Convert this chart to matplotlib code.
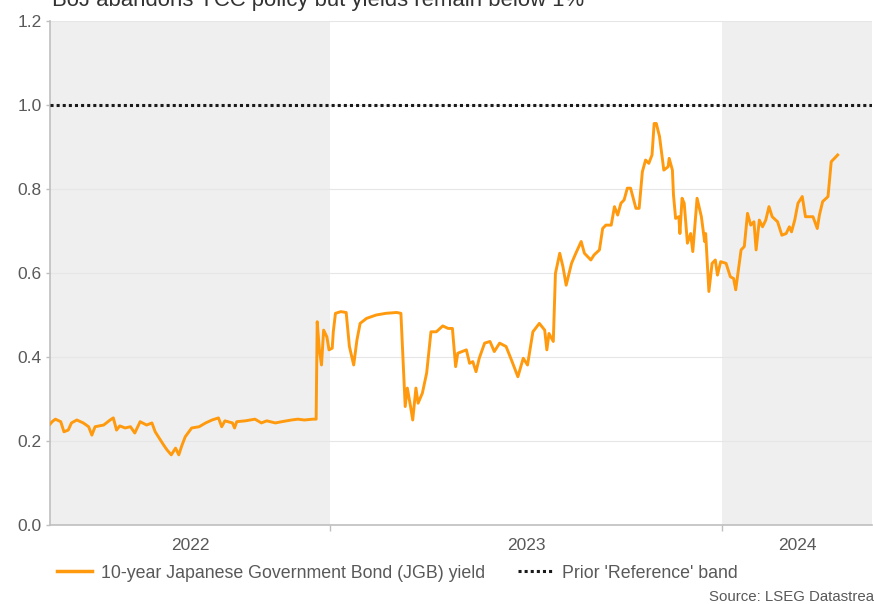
import matplotlib
matplotlib.use('Agg')
import matplotlib.pyplot as plt
from matplotlib.lines import Line2D
import pandas as pd

# 10-year JGB yield, sampled off the daily series (date, %)
dates_2022 = ['2022-04-15', '2022-04-17', '2022-04-20', '2022-04-25', '2022-04-28', '2022-05-02',
              '2022-05-05', '2022-05-10', '2022-05-16', '2022-05-21', '2022-05-24', '2022-05-27',
              '2022-06-04', '2022-06-10', '2022-06-13', '2022-06-16', '2022-06-19', '2022-06-24',
              '2022-06-29', '2022-07-03', '2022-07-08', '2022-07-14', '2022-07-19', '2022-07-22',
              '2022-07-27', '2022-07-30', '2022-08-02', '2022-08-06', '2022-08-10', '2022-08-13',
              '2022-08-16', '2022-08-19', '2022-08-25', '2022-09-01', '2022-09-07', '2022-09-13',
              '2022-09-19', '2022-09-22', '2022-09-25', '2022-10-02', '2022-10-04', '2022-10-06',
              '2022-10-14', '2022-10-23', '2022-10-29', '2022-11-03', '2022-11-11', '2022-11-17',
              '2022-11-26', '2022-12-02', '2022-12-08', '2022-12-16', '2022-12-19', '2022-12-20',
              '2022-12-22', '2022-12-24', '2022-12-26', '2022-12-29', '2022-12-31']
yields_2022 = [0.240, 0.246, 0.252, 0.246, 0.222, 0.226,
               0.243, 0.250, 0.243, 0.234, 0.214, 0.234,
               0.238, 0.250, 0.255, 0.226, 0.236, 0.231,
               0.234, 0.219, 0.246, 0.238, 0.243, 0.222,
               0.202, 0.190, 0.179, 0.167, 0.183, 0.167,
               0.190, 0.210, 0.231, 0.234, 0.243, 0.250,
               0.255, 0.234, 0.248, 0.243, 0.231, 0.246,
               0.248, 0.252, 0.243, 0.248, 0.243, 0.246,
               0.250, 0.252, 0.250, 0.252, 0.252, 0.484,
               0.417, 0.381, 0.464, 0.448, 0.417]

dates_2023 = ['2023-01-03', '2023-01-04', '2023-01-06', '2023-01-11', '2023-01-16', '2023-01-19',
              '2023-01-23', '2023-01-26', '2023-01-29', '2023-02-04', '2023-02-13', '2023-02-22',
              '2023-03-04', '2023-03-08', '2023-03-10', '2023-03-12', '2023-03-14', '2023-03-17',
              '2023-03-19', '2023-03-22', '2023-03-24', '2023-03-28', '2023-04-01', '2023-04-05',
              '2023-04-10', '2023-04-16', '2023-04-21', '2023-04-25', '2023-04-28', '2023-04-30',
              '2023-05-08', '2023-05-11', '2023-05-14', '2023-05-17', '2023-05-20', '2023-05-25',
              '2023-05-30', '2023-06-03', '2023-06-08', '2023-06-14', '2023-06-19', '2023-06-25',
              '2023-06-30', '2023-07-04', '2023-07-09', '2023-07-15', '2023-07-20', '2023-07-22',
              '2023-07-24', '2023-07-28', '2023-07-30', '2023-08-03', '2023-08-06', '2023-08-09',
              '2023-08-14', '2023-08-18', '2023-08-23', '2023-08-26', '2023-09-01', '2023-09-04',
              '2023-09-09', '2023-09-12', '2023-09-15', '2023-09-20', '2023-09-23', '2023-09-26',
              '2023-09-29', '2023-10-02', '2023-10-05', '2023-10-08', '2023-10-13', '2023-10-16',
              '2023-10-19', '2023-10-22', '2023-10-25', '2023-10-28', '2023-10-30', '2023-11-01',
              '2023-11-04', '2023-11-08', '2023-11-12', '2023-11-13', '2023-11-16', '2023-11-17',
              '2023-11-19', '2023-11-22', '2023-11-23', '2023-11-25', '2023-11-27', '2023-11-30',
              '2023-12-03', '2023-12-05', '2023-12-09', '2023-12-13', '2023-12-16', '2023-12-17',
              '2023-12-20', '2023-12-23', '2023-12-26', '2023-12-28', '2023-12-31']
yields_2023 = [0.421, 0.460, 0.504, 0.508, 0.506, 0.425,
               0.381, 0.440, 0.480, 0.492, 0.500, 0.504,
               0.506, 0.504, 0.393, 0.282, 0.326, 0.282,
               0.250, 0.326, 0.290, 0.314, 0.362, 0.460,
               0.460, 0.474, 0.468, 0.468, 0.377, 0.409,
               0.417, 0.385, 0.389, 0.365, 0.397, 0.433,
               0.437, 0.413, 0.433, 0.425, 0.393, 0.353,
               0.397, 0.381, 0.460, 0.480, 0.464, 0.417,
               0.456, 0.437, 0.599, 0.647, 0.615, 0.571,
               0.623, 0.647, 0.675, 0.647, 0.631, 0.643,
               0.655, 0.706, 0.714, 0.714, 0.758, 0.738,
               0.766, 0.774, 0.802, 0.802, 0.754, 0.754,
               0.841, 0.869, 0.861, 0.881, 0.956, 0.956,
               0.925, 0.845, 0.853, 0.873, 0.845, 0.786,
               0.730, 0.734, 0.694, 0.778, 0.766, 0.671,
               0.694, 0.651, 0.778, 0.734, 0.675, 0.694,
               0.556, 0.623, 0.631, 0.595, 0.627]

dates_2024 = ['2024-01-05', '2024-01-09', '2024-01-12', '2024-01-14', '2024-01-19', '2024-01-22',
              '2024-01-25', '2024-01-28', '2024-01-31', '2024-02-02', '2024-02-05', '2024-02-08',
              '2024-02-11', '2024-02-14', '2024-02-17', '2024-02-22', '2024-02-26', '2024-03-01',
              '2024-03-04', '2024-03-06', '2024-03-09', '2024-03-12', '2024-03-16', '2024-03-19',
              '2024-03-23', '2024-03-26', '2024-03-30', '2024-04-01', '2024-04-04', '2024-04-09',
              '2024-04-12', '2024-04-15', '2024-04-18']
yields_2024 = [0.623, 0.591, 0.587, 0.560, 0.655, 0.663,
               0.742, 0.714, 0.722, 0.655, 0.726, 0.710,
               0.726, 0.758, 0.734, 0.722, 0.690, 0.694,
               0.710, 0.698, 0.726, 0.766, 0.782, 0.734,
               0.734, 0.734, 0.706, 0.738, 0.770, 0.782,
               0.865, 0.873, 0.881]

reference_band = 1.0
year_starts = ['2023-01-01', '2024-01-01']
year_labels = ['2022', '2023', '2024']
x_start, x_end = '2022-04-15', '2024-05-20'

title = "BoJ abandons YCC policy but yields remain below 1%"
series_label = '10-year Japanese Government Bond (JGB) yield'
band_label = "Prior 'Reference' band"
source = 'Source: LSEG Datastream'

ORANGE = '#ff9a0e'
SHADE = '#efefef'
AXIS_GREY = '#bfbfbf'
TEXT_GREY = '#595959'

plt.rcParams['font.family'] = ['Liberation Sans', 'DejaVu Sans']

dates = pd.to_datetime(dates_2022 + dates_2023 + dates_2024)
yields = yields_2022 + yields_2023 + yields_2024
x0, x1 = pd.Timestamp(x_start), pd.Timestamp(x_end)
bounds = [x0] + [pd.Timestamp(d) for d in year_starts] + [x1]

fig = plt.figure(figsize=(8.74, 6.04), dpi=100)
ax = fig.add_axes([50 / 874, 79 / 604, 822 / 874, 504 / 604])

# shade the 2022 and 2024 sections
ax.axvspan(bounds[0], bounds[1], color=SHADE, zorder=0, lw=0)
ax.axvspan(bounds[2], bounds[3], color=SHADE, zorder=0, lw=0)

ax.plot(dates, yields, color=ORANGE, lw=2.1, zorder=3, solid_joinstyle='round')
ax.axhline(reference_band, color='#1a1a1a', lw=2.2, linestyle=(0, (1, 1)), zorder=4)

ax.set_xlim(x0, x1)
ax.set_ylim(0, 1.2)
ax.set_yticks([0.0, 0.2, 0.4, 0.6, 0.8, 1.0, 1.2])
ax.set_yticklabels([f'{v:.1f}' for v in ax.get_yticks()])
ax.grid(axis='y', color='#e6e6e6', lw=0.8, zorder=1)
ax.set_axisbelow(True)

# year boundaries get tick marks, labels sit centred in each year's span
ax.set_xticks([pd.Timestamp(d) for d in year_starts])
ax.set_xticklabels([])
mids = [bounds[i] + (bounds[i + 1] - bounds[i]) / 2 for i in range(3)]
ax.set_xticks(mids, minor=True)
ax.set_xticklabels(year_labels, minor=True)
ax.tick_params(axis='x', which='major', length=4, width=1, color=AXIS_GREY)
ax.tick_params(axis='x', which='minor', length=0, pad=9, labelsize=12.5, labelcolor=TEXT_GREY)
ax.tick_params(axis='y', length=3, width=1, color=AXIS_GREY, pad=3, labelsize=12.5, labelcolor=TEXT_GREY)

for side in ['top', 'right']:
    ax.spines[side].set_visible(False)
for side in ['left', 'bottom']:
    ax.spines[side].set_color(AXIS_GREY)
    ax.spines[side].set_linewidth(1.2)

fig.text(52 / 874, 1 - 6 / 604, title, fontsize=15.9, color='#333333', va='baseline', ha='left')

handles = [Line2D([], [], color=ORANGE, lw=2.5),
           Line2D([], [], color='#1a1a1a', lw=2.2, linestyle=(0, (1, 1)))]
fig.legend(handles, [series_label, band_label], loc='center left',
           bbox_to_anchor=(57 / 874, 31 / 604), ncol=2, frameon=False,
           fontsize=12.75, labelcolor=TEXT_GREY, handlelength=2.0, handletextpad=0.5,
           columnspacing=1.85, borderpad=0, borderaxespad=0)

fig.text(709 / 874, 7 / 604, source, fontsize=10.8, color=TEXT_GREY, va='center', ha='left')

fig.savefig('out.png', dpi=100)
plt.close(fig)
